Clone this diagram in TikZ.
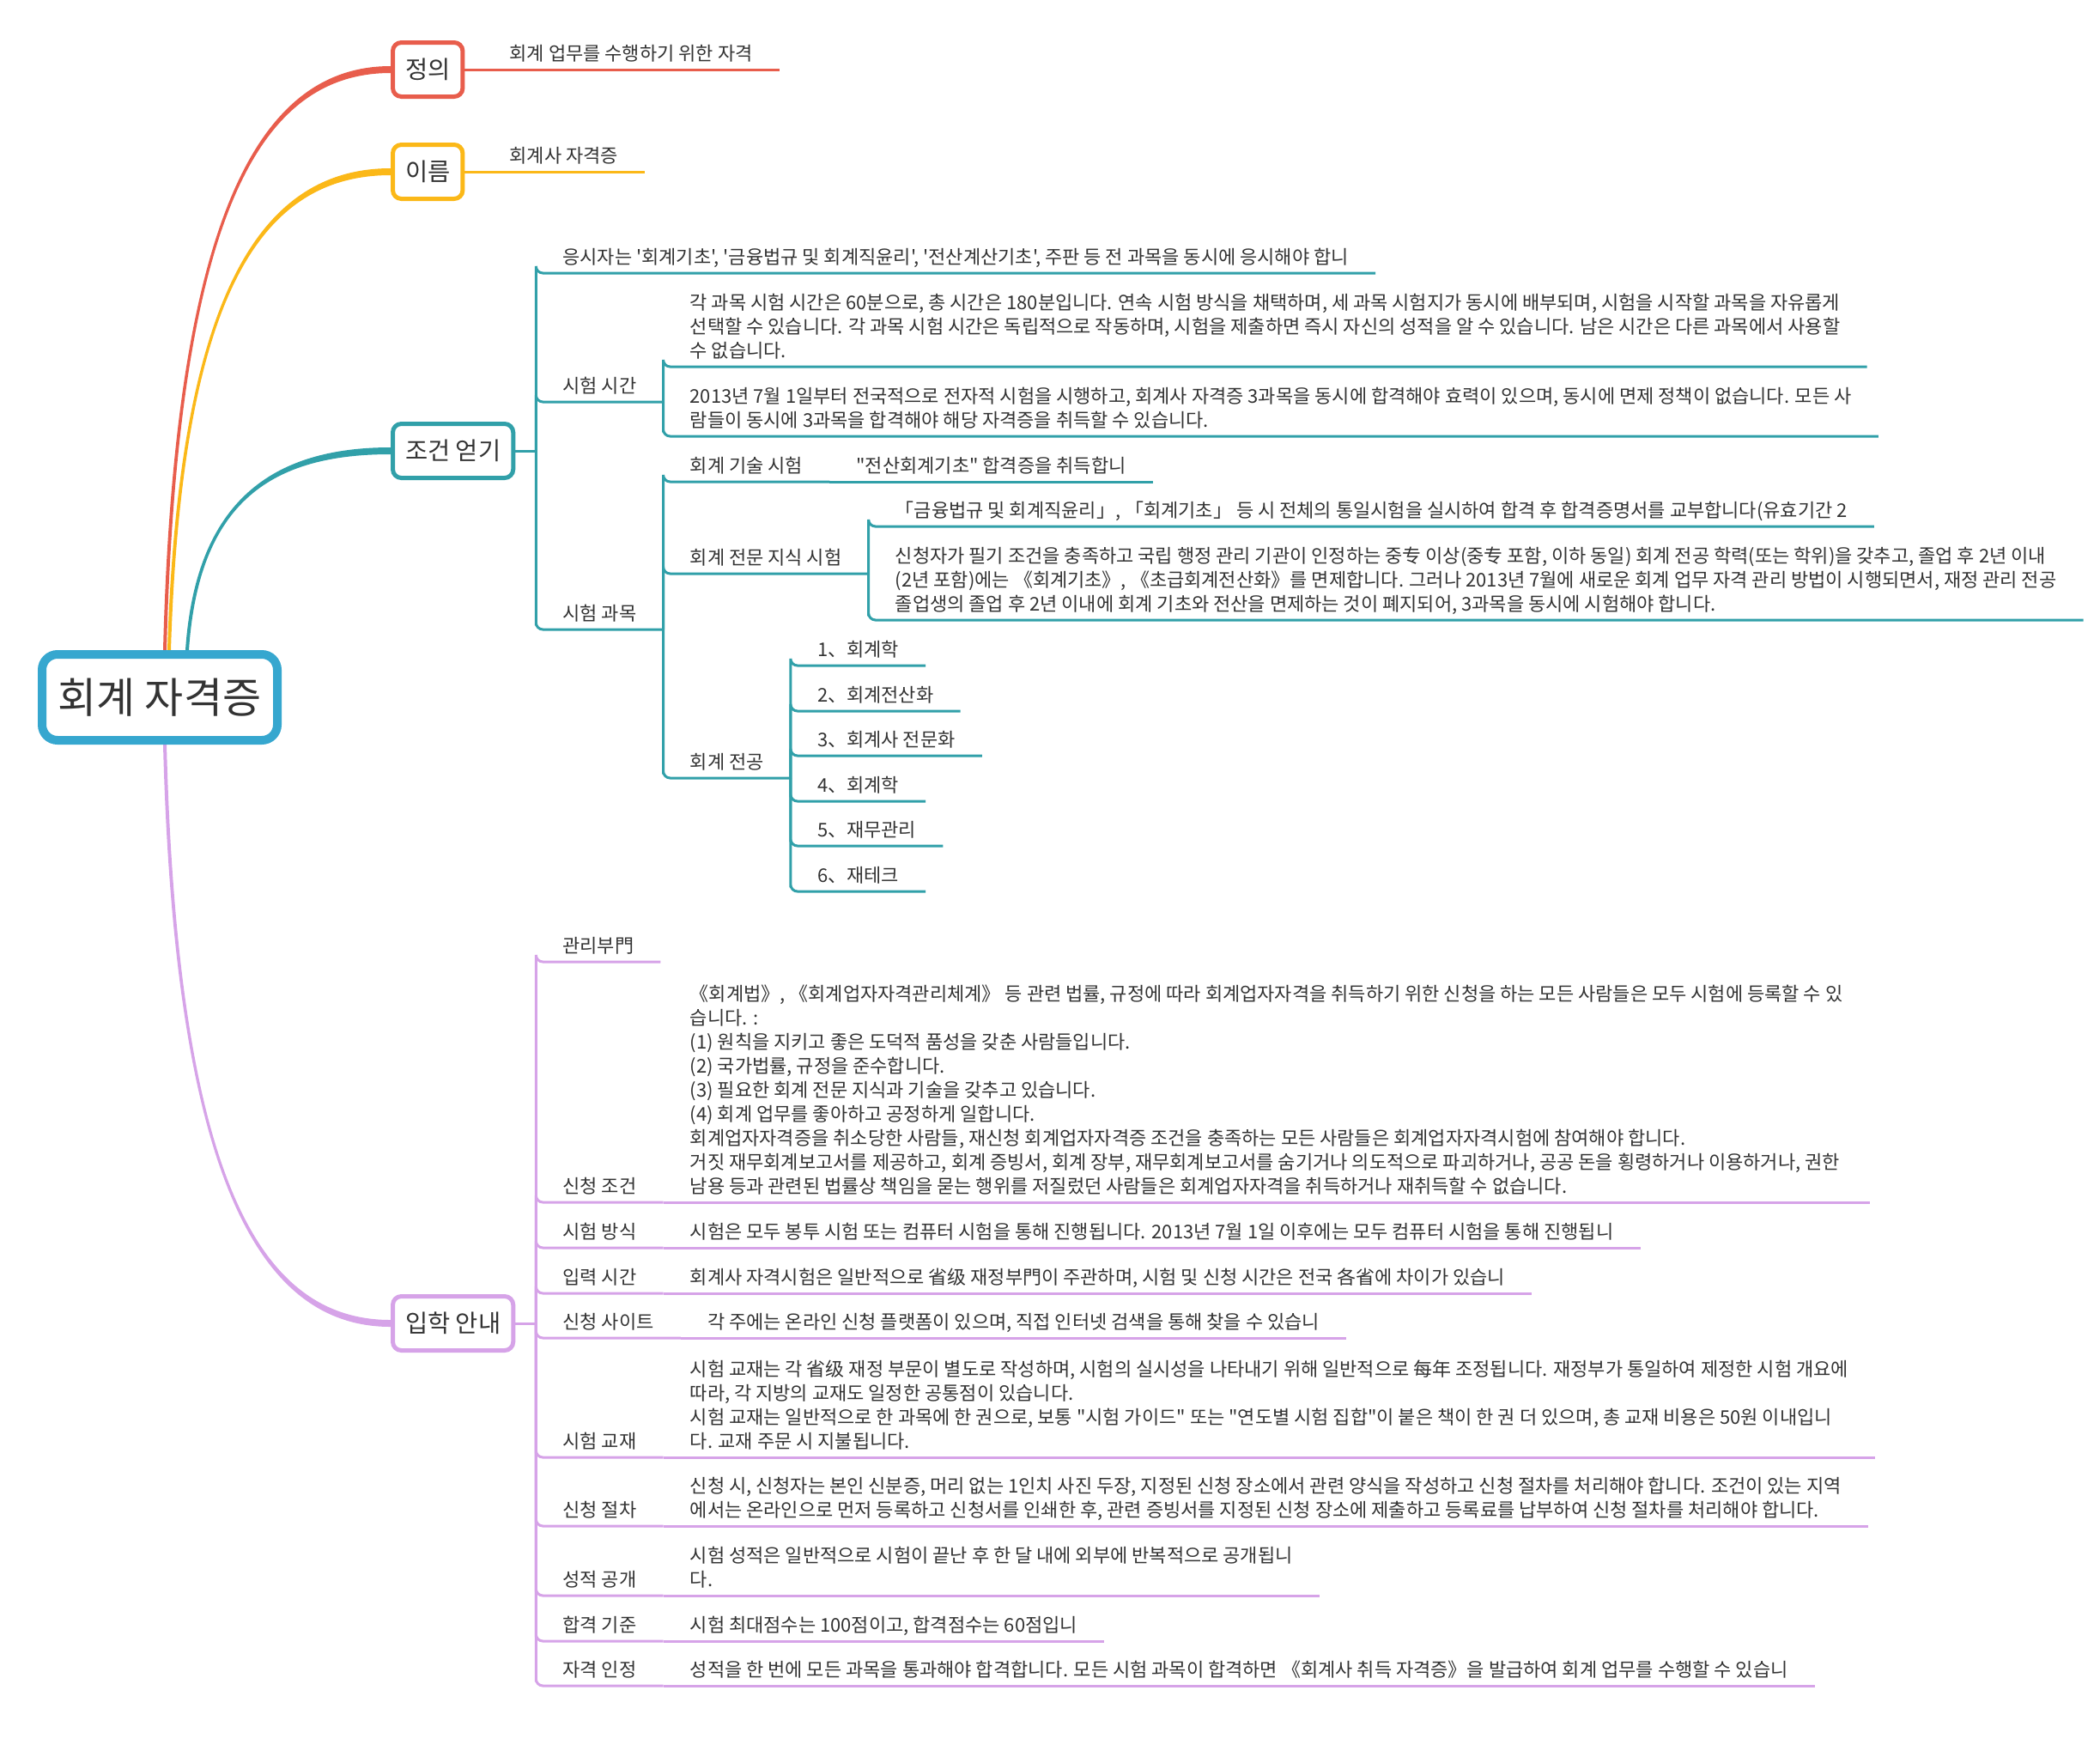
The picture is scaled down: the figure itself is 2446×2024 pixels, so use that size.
\documentclass[tikz,border=0pt]{standalone}
\usepackage{fontspec}
\setmainfont{Noto Sans CJK KR}[Ligatures=TeXOff]
\usepackage{tikz}
\usetikzlibrary{calc, positioning, backgrounds}

\definecolor{ink}{HTML}{333333}
\definecolor{rootblue}{HTML}{36A7CF}
\definecolor{defred}{HTML}{E85D4C}
\definecolor{nameyellow}{HTML}{FBB818}
\definecolor{condteal}{HTML}{31A0A9}
\definecolor{guidelilac}{HTML}{D6A3E8}

\NewDocumentCommand{\mapbranch}{%
    O{}     % fill options
    m       % start of the branch (on the central topic)
    m       % end of the branch (on the main topic)
    }{%
    \fill[#1] let
        \p1 = (#2),
        \p2 = (#3),
        \n1 = {\x2-\x1},
        \n2 = {\y2-\y1},
        \n3 = {4*sign(\n2)}
    in
        (\x1-2pt,\y1)
        .. controls (\x1+0.05*\n1-2pt,\y1+0.75*\n2) and (\x1+0.42*\n1,\y2+\n3)
        .. (\x2,\y2+\n3)
        -- (\x2,\y2-\n3)
        .. controls (\x1+0.42*\n1,\y2-\n3) and (\x1+0.05*\n1+2pt,\y1+0.75*\n2)
        .. (\x1+2pt,\y1) -- cycle;
}

\tikzset{
    every node/.style={text=ink},
    rootbox/.style={draw=rootblue, line width=10pt, rounded corners=18pt, fill=white,
        minimum width=274pt, minimum height=100pt,
        font=\fontsize{49}{58}\selectfont},
    topic/.style={draw=#1, line width=5pt, rounded corners=10pt, fill=white,
        minimum height=63pt, inner xsep=14.5pt, anchor=west,
        font=\fontsize{28.5}{34}\selectfont},
    leaf/.style={anchor=south west, inner xsep=31pt, inner ysep=5pt,
        text depth=5pt, align=left, font=\fontsize{22}{28}\selectfont},
    link/.style={draw=#1, line width=3pt, rounded corners=8pt},
}

\begin{document}
\begin{tikzpicture}[x=1pt, y=-1pt]
    \useasboundingbox (0,0) rectangle (2446,2024);

    % central topic and main topics
    \node[rootbox] (root) at (186,812) {회계 자격증};
    \node[topic=defred] (def) at (455,81) {정의};
    \node[topic=nameyellow] (name) at (455,200) {이름};
    \node[topic=condteal] (cond) at (455,525) {조건 얻기};
    \node[topic=guidelilac] (guide) at (455,1541) {입학 안내};

    \begin{scope}[on background layer]
        \mapbranch[defred]{$(root.north)+(6,0)$}{def.west}
        \mapbranch[nameyellow]{$(root.north)+(11,0)$}{name.west}
        \mapbranch[condteal]{$(root.north)+(32,0)$}{cond.west}
        \mapbranch[guidelilac]{$(root.south)+(6,0)$}{guide.west}
    \end{scope}

    % definition and name
    \node[leaf] (defleaf) at ($(def.east)+(21,0)$) {회계 업무를 수행하기 위한 자격};
    \draw[link=defred] (def.east) -- (defleaf.south west) -- (defleaf.south east);
    \node[leaf] (nameleaf) at ($(name.east)+(21,0)$) {회계사 자격증};
    \draw[link=nameyellow] (name.east) -- (nameleaf.south west) -- (nameleaf.south east);

    % conditions
    \coordinate[right=24pt of cond.east] (condhub);
    \draw[link=condteal] (cond.east) -- (condhub);
    \node[leaf] (c1) at (condhub |- 0,318) {응시자는 '회계기초', '금융법규 및 회계직윤리', '전산계산기초', 주판 등 전 과목을 동시에 응시해야 합니};
    \node[leaf] (c2) at (condhub |- 0,468) {시험 시간};
    \node[leaf] (c3) at (condhub |- 0,733) {시험 과목};
    \foreach \n in {c1,c2,c3}
        \draw[link=condteal] (condhub) |- (\n.south west) -- (\n.south east);

    \node[leaf] (c21) at (c2.south east |- 0,427) {각 과목 시험 시간은 60분으로, 총 시간은 180분입니다. 연속 시험 방식을 채택하며, 세 과목 시험지가 동시에 배부되며, 시험을 시작할 과목을 자유롭게\\선택할 수 있습니다. 각 과목 시험 시간은 독립적으로 작동하며, 시험을 제출하면 즉시 자신의 성적을 알 수 있습니다. 남은 시간은 다른 과목에서 사용할\\수 없습니다.};
    \node[leaf] (c22) at (c2.south east |- 0,508) {2013년 7월 1일부터 전국적으로 전자적 시험을 시행하고, 회계사 자격증 3과목을 동시에 합격해야 효력이 있으며, 동시에 면제 정책이 없습니다. 모든 사\\람들이 동시에 3과목을 합격해야 해당 자격증을 취득할 수 있습니다.};
    \foreach \n in {c21,c22}
        \draw[link=condteal] (c2.south east) |- (\n.south west) -- (\n.south east);

    \node[leaf] (c31) at (c3.south east |- 0,561) {회계 기술 시험};
    \node[leaf] (c32) at (c3.south east |- 0,668) {회계 전문 지식 시험};
    \node[leaf] (c33) at (c3.south east |- 0,906) {회계 전공};
    \foreach \n in {c31,c32,c33}
        \draw[link=condteal] (c3.south east) |- (\n.south west) -- (\n.south east);
    \node[leaf] (c311) at (c31.south east) {"전산회계기초" 합격증을 취득합니};
    \draw[link=condteal] (c31.south east) -- (c311.south east);

    \node[leaf] (c321) at (c32.south east |- 0,613) {「금융법규 및 회계직윤리」, 「회계기초」 등 시 전체의 통일시험을 실시하여 합격 후 합격증명서를 교부합니다(유효기간 2};
    \node[leaf] (c322) at (c32.south east |- 0,722) {신청자가 필기 조건을 충족하고 국립 행정 관리 기관이 인정하는 중专 이상(중专 포함, 이하 동일) 회계 전공 학력(또는 학위)을 갖추고, 졸업 후 2년 이내\\(2년 포함)에는 《회계기초》, 《초급회계전산화》를 면제합니다. 그러나 2013년 7월에 새로운 회계 업무 자격 관리 방법이 시행되면서, 재정 관리 전공\\졸업생의 졸업 후 2년 이내에 회계 기초와 전산을 면제하는 것이 폐지되어, 3과목을 동시에 시험해야 합니다.};
    \foreach \n in {c321,c322}
        \draw[link=condteal] (c32.south east) |- (\n.south west) -- (\n.south east);

    \foreach \k/\y/\txt in {1/775/회계학, 2/828/회계전산화, 3/880/회계사 전문화, 4/933/회계학, 5/985/재무관리, 6/1038/재테크} {
        \node[leaf] (m\k) at (c33.south east |- 0,\y) {\k、\txt};
        \draw[link=condteal] (c33.south east) |- (m\k.south west) -- (m\k.south east);
    }

    % admission guide
    \coordinate[right=24pt of guide.east] (guidehub);
    \draw[link=guidelilac] (guide.east) -- (guidehub);
    \foreach \n/\y/\txt in {g1/1120/관리부門, g2/1400/신청 조건, g3/1453/시험 방식, g4/1506/입력 시간, g5/1558/신청 사이트, g6/1697/시험 교재, g7/1777/신청 절차, g8/1858/성적 공개, g9/1911/합격 기준, g10/1963/자격 인정} {
        \node[leaf] (\n) at (guidehub |- 0,\y) {\txt};
        \draw[link=guidelilac] (guidehub) |- (\n.south west) -- (\n.south east);
    }

    \node[leaf] (g2t) at (g2.south east) {《회계법》, 《회계업자자격관리체계》 등 관련 법률, 규정에 따라 회계업자자격을 취득하기 위한 신청을 하는 모든 사람들은 모두 시험에 등록할 수 있\\습니다. :\\(1) 원칙을 지키고 좋은 도덕적 품성을 갖춘 사람들입니다.\\(2) 국가법률, 규정을 준수합니다.\\(3) 필요한 회계 전문 지식과 기술을 갖추고 있습니다.\\(4) 회계 업무를 좋아하고 공정하게 일합니다.\\회계업자자격증을 취소당한 사람들, 재신청 회계업자자격증 조건을 충족하는 모든 사람들은 회계업자자격시험에 참여해야 합니다.\\거짓 재무회계보고서를 제공하고, 회계 증빙서, 회계 장부, 재무회계보고서를 숨기거나 의도적으로 파괴하거나, 공공 돈을 횡령하거나 이용하거나, 권한\\남용 등과 관련된 법률상 책임을 묻는 행위를 저질렀던 사람들은 회계업자자격을 취득하거나 재취득할 수 없습니다.};
    \node[leaf] (g3t) at (g3.south east) {시험은 모두 봉투 시험 또는 컴퓨터 시험을 통해 진행됩니다. 2013년 7월 1일 이후에는 모두 컴퓨터 시험을 통해 진행됩니};
    \node[leaf] (g4t) at (g4.south east) {회계사 자격시험은 일반적으로 省级 재정부門이 주관하며, 시험 및 신청 시간은 전국 各省에 차이가 있습니};
    \node[leaf] (g5t) at (g5.south east) {각 주에는 온라인 신청 플랫폼이 있으며, 직접 인터넷 검색을 통해 찾을 수 있습니};
    \node[leaf] (g6t) at (g6.south east) {시험 교재는 각 省级 재정 부문이 별도로 작성하며, 시험의 실시성을 나타내기 위해 일반적으로 每年 조정됩니다. 재정부가 통일하여 제정한 시험 개요에\\따라, 각 지방의 교재도 일정한 공통점이 있습니다.\\시험 교재는 일반적으로 한 과목에 한 권으로, 보통 "시험 가이드" 또는 "연도별 시험 집합"이 붙은 책이 한 권 더 있으며, 총 교재 비용은 50원 이내입니\\다. 교재 주문 시 지불됩니다.};
    \node[leaf] (g7t) at (g7.south east) {신청 시, 신청자는 본인 신분증, 머리 없는 1인치 사진 두장, 지정된 신청 장소에서 관련 양식을 작성하고 신청 절차를 처리해야 합니다. 조건이 있는 지역\\에서는 온라인으로 먼저 등록하고 신청서를 인쇄한 후, 관련 증빙서를 지정된 신청 장소에 제출하고 등록료를 납부하여 신청 절차를 처리해야 합니다.};
    \node[leaf] (g8t) at (g8.south east) {시험 성적은 일반적으로 시험이 끝난 후 한 달 내에 외부에 반복적으로 공개됩니\\다.};
    \node[leaf] (g9t) at (g9.south east) {시험 최대점수는 100점이고, 합격점수는 60점입니};
    \node[leaf] (g10t) at (g10.south east) {성적을 한 번에 모든 과목을 통과해야 합격합니다. 모든 시험 과목이 합격하면 《회계사 취득 자격증》을 발급하여 회계 업무를 수행할 수 있습니};
    \foreach \n in {g2,g3,g4,g5,g6,g7,g8,g9,g10}
        \draw[link=guidelilac] (\n.south east) -- (\n t.south east);
\end{tikzpicture}
\end{document}
